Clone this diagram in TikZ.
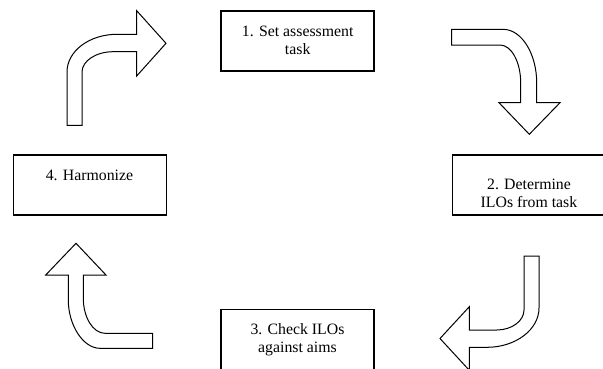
\documentclass[tikz,border=0pt]{standalone}
\usepackage{fontspec}
\setmainfont{Liberation Serif}
\begin{document}
\begin{tikzpicture}[x=1pt,y=-1pt,
  box/.style={draw=black,line width=1.6pt,fill=white,minimum width=153pt,minimum height=60pt,inner sep=0pt,outer sep=0pt},
  lbl/.style={align=center,inner sep=0pt,font=\fontsize{15.8}{18.4}\selectfont},
  blockarrow/.style={draw=black,line width=1pt,fill=white,line join=miter}]
\useasboundingbox (0,0) rectangle (603,368);
\clip (0,0) rectangle (603,368);
\fill[white] (0,0) rectangle (603,368);
% boxes
\node[box] (b1) at (297.5,41) {};
\node[box] (b2) at (529,184.7) {};
\node[box] (b3) at (297.5,339.3) {};
\node[box] (b4) at (90,185) {};
% labels (base anchor = baseline of last line)
\node[lbl,anchor=base] (t1) at (297.7,54.4) {1. Set assessment\\task};
\node[lbl,anchor=base] (t2) at (529,207.7) {2. Determine\\ILOs from task};
\node[lbl,anchor=base] (t3) at (297.5,352.4) {3. Check ILOs\\against aims};
\node[lbl,anchor=base] (t4) at (89.5,180.7) {4. Harmonize};
% arrow 1 (top left, up then right)
\draw[blockarrow] (67,125.3) -- (67,72) .. controls (67,51) and (89.5,34.3) .. (117,34.3)
  -- (136.7,34.3) -- (136.7,10.7) -- (166,43.3) -- (136.7,76) -- (136.7,51.7) -- (113,51.7)
  .. controls (96,51.7) and (82,61) .. (82,72) -- (82,125.3) -- cycle;
% arrow 2 (top right, right then down)
\draw[blockarrow] (451.7,29.3) -- (503,29.3) .. controls (521.5,29.3) and (536.7,53.5) .. (536.7,83)
  -- (536.7,102.7) -- (560,102.7) -- (529.3,134.3) -- (499,102.7) -- (520.7,102.7) -- (520.7,83)
  .. controls (520.7,62) and (511.4,45) .. (500,45) -- (451.7,45) -- cycle;
% arrow 3 (bottom right, down then left)
\draw[blockarrow] (524,256) -- (539,256) -- (539,308) .. controls (539,329.6) and (515.6,347.3) .. (487,347.3)
  -- (469.3,347.3) -- (469.3,370.3) -- (440,338.5) -- (469.3,306.7) -- (469.3,330) -- (496.7,330)
  .. controls (511.7,330) and (524,321) .. (524,310) -- cycle;
% arrow 4 (bottom left, left then up)
\draw[blockarrow] (152.7,348.3) -- (100,348.3) .. controls (83,348.3) and (68.3,325) .. (68.3,300)
  -- (68.3,275) -- (45.7,275) -- (76,243.3) -- (106,275) -- (83.3,275) -- (83.3,298)
  .. controls (83.3,317.4) and (93,333.3) .. (105,333.3) -- (152.7,333.3) -- cycle;
\end{tikzpicture}
\end{document}
